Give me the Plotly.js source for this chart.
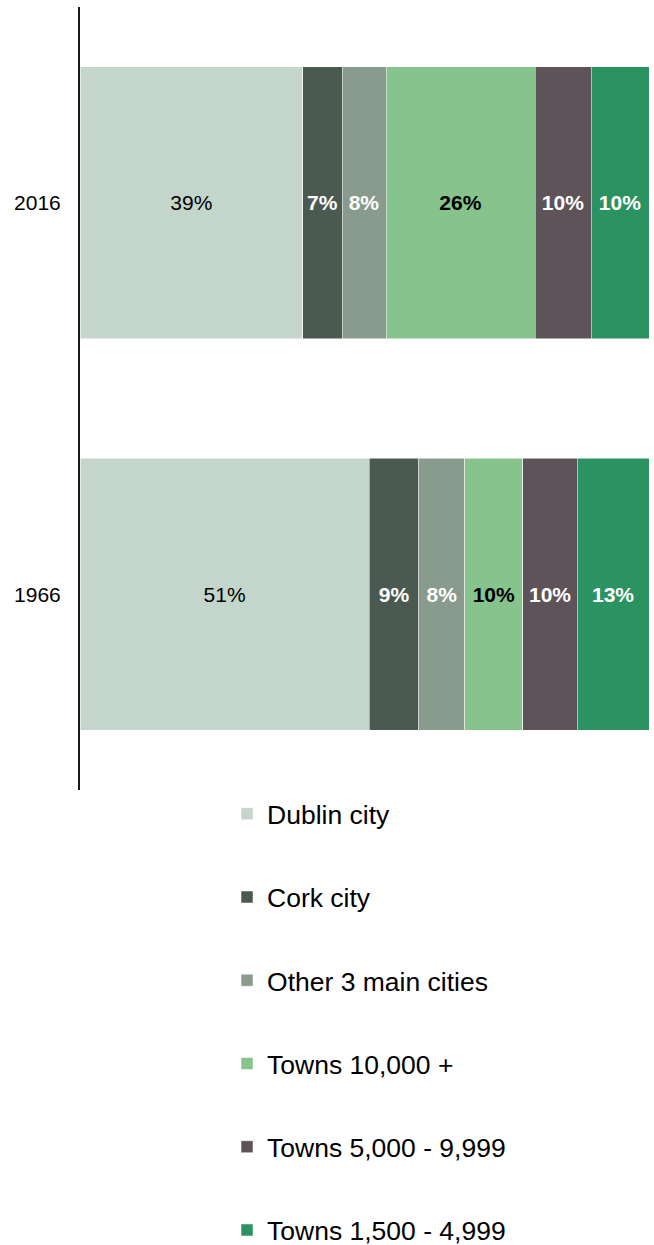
<!DOCTYPE html>
<html>
<head>
<meta charset="utf-8">
<script src="https://cdn.plot.ly/plotly-3.0.1.min.js"></script>
<style>html,body{margin:0;padding:0;background:#fff;}#chart{width:654px;height:1245px;}</style>
</head>
<body>
<div id="chart"></div>
<script>
var years = ['1966', '2016'];
var seriesNames = ['Dublin city', 'Cork city', 'Other 3 main cities', 'Towns 10,000 +', 'Towns 5,000 - 9,999', 'Towns 1,500 - 4,999'];
var dublin = [50.84, 39.14];
var cork = [8.73, 6.91];
var other3 = [8.03, 7.73];
var towns10k = [10.25, 26.19];
var towns5k = [9.55, 9.84];
var towns1500 = [12.60, 10.19];
var colors = ['#c4d6cb', '#4b5a50', '#899b8c', '#87c38d', '#5d5358', '#2b9262'];
var labelColors = ['#000000', '#ffffff', '#ffffff', '#000000', '#ffffff', '#ffffff'];
var labelBold = [false, true, true, true, true, true];
var seriesValues = [dublin, cork, other3, towns10k, towns5k, towns1500];

var traces = seriesValues.map(function (vals, i) {
  return {
    type: 'bar',
    orientation: 'h',
    name: seriesNames[i],
    y: years,
    x: vals,
    legendgroup: 'g' + i,
    marker: {color: colors[i], line: {color: '#ffffff', width: 0.5}},
    texttemplate: labelBold[i] ? '<b>%{x:.0f}%</b>' : '%{x:.0f}%',
    textposition: 'inside',
    insidetextanchor: 'middle',
    textangle: 0,
    insidetextfont: {family: 'Liberation Sans, Arial, sans-serif', size: 21, color: labelColors[i]},
    hoverinfo: 'name+x'
  };
});

var layout = {
  width: 654,
  height: 1245,
  margin: {l: 80, r: 5, t: 6.5, b: 0},
  barmode: 'stack',
  bargap: 0.304,
  paper_bgcolor: '#ffffff',
  plot_bgcolor: '#ffffff',
  showlegend: true,
  font: {family: 'Liberation Sans, Arial, sans-serif', color: '#000000'},
  xaxis: {
    range: [0, 100],
    showgrid: false,
    zeroline: false,
    showticklabels: false,
    showline: false,
    fixedrange: true
  },
  yaxis: {
    type: 'category',
    showgrid: false,
    zeroline: false,
    showline: true,
    linecolor: '#1a1a1a',
    linewidth: 2,
    ticks: '',
    ticklabelstandoff: 13,
    tickfont: {size: 21, color: '#000000'},
    fixedrange: true
  },
  legend: {
    orientation: 'v',
    traceorder: 'grouped',
    xref: 'paper',
    yref: 'container',
    x: 0.2584,
    xanchor: 'left',
    y: 1 - 790 / 1245,
    yanchor: 'top',
    font: {size: 26.5, color: '#000000'},
    tracegroupgap: 45.8,
    bgcolor: 'rgba(0,0,0,0)'
  }
};

Plotly.newPlot('chart', traces, layout, {displayModeBar: false, staticPlot: true});
</script>
</body>
</html>
